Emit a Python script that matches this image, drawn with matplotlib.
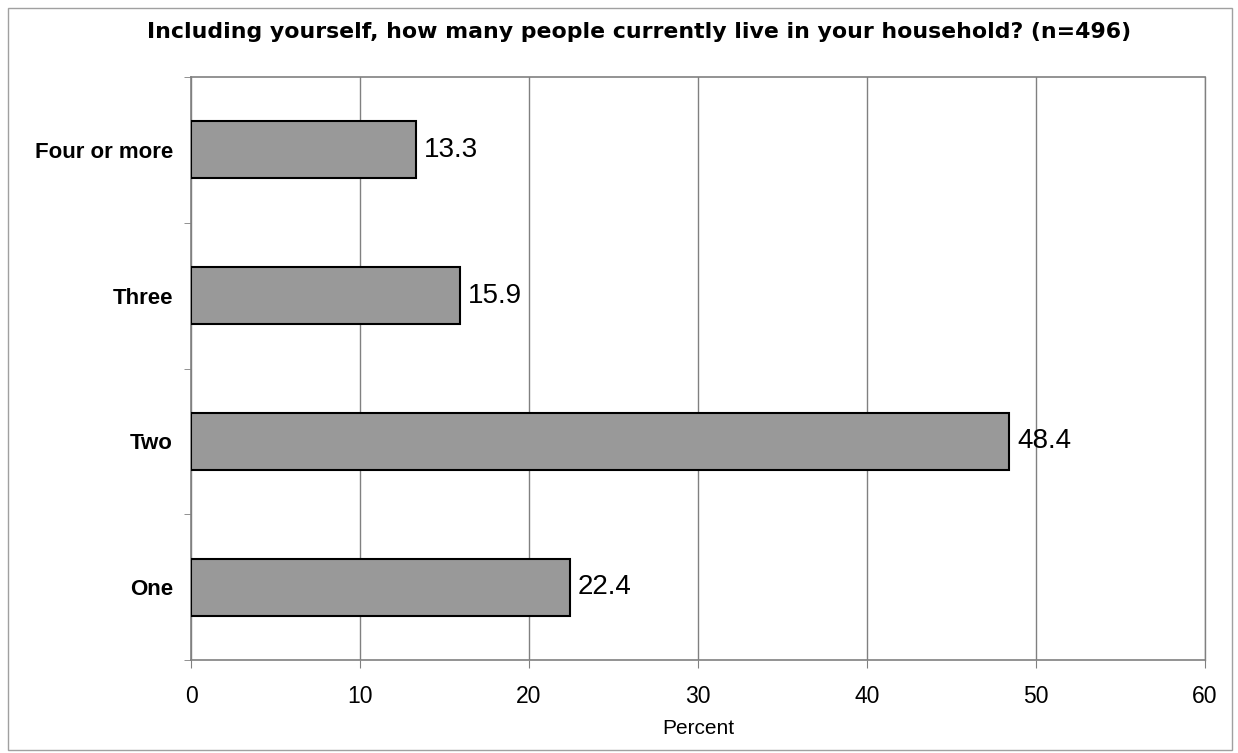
import matplotlib
matplotlib.use("Agg")
import matplotlib.pyplot as plt
from matplotlib.patches import Rectangle
from matplotlib.ticker import FixedLocator

categories = ["One", "Two", "Three", "Four or more"]
values = [22.4, 48.4, 15.9, 13.3]
xticks = [0, 10, 20, 30, 40, 50, 60]
title = "Including yourself, how many people currently live in your household? (n=496)"
xlabel = "Percent"

plt.rcParams['font.family'] = ['Liberation Sans', 'DejaVu Sans']

fig = plt.figure(figsize=(12.38, 7.53), dpi=100)
fig.patch.set_facecolor('white')
fig.patches.append(Rectangle((8/1238, 3/753), 1224/1238, 742/753, transform=fig.transFigure,
                             fill=False, edgecolor='#a0a0a0', linewidth=1.0))

ax = fig.add_axes([191/1238, 1 - 660/753, (1205-191)/1238, (660-77)/753])
ypos = list(range(len(categories)))
ax.barh(ypos, values, height=0.39, color='#999999', edgecolor='black', linewidth=1.5, zorder=3)
for y, v in zip(ypos, values):
    ax.text(v + 0.5, y, f"{v:.1f}", va='center', ha='left', fontsize=20, zorder=4)

ax.set_xlim(0, 60)
ax.set_ylim(-0.5, len(categories) - 0.5)
ax.set_xticks(xticks)
ax.set_xticklabels([str(t) for t in xticks], fontsize=16.5)
ax.set_yticks(ypos)
ax.set_yticklabels(categories, fontsize=16, fontweight='bold')
ax.yaxis.set_minor_locator(FixedLocator([-0.5, 0.5, 1.5, 2.5, 3.5]))
ax.tick_params(axis='y', which='major', length=0, pad=13)
ax.tick_params(axis='y', which='minor', length=5, color='#808080', direction='out')
ax.tick_params(axis='x', which='major', length=6, color='#808080', direction='out', pad=12)
ax.grid(axis='x', color='#808080', linewidth=1.0, zorder=0)
for s in ['top', 'bottom', 'left', 'right']:
    ax.spines[s].set_color('#808080')
    ax.spines[s].set_linewidth(1.2)
ax.spines['right'].set_linewidth(1.0)
ax.set_xlabel(xlabel, fontsize=15, labelpad=8)

fig.text(639/1238, 1 - 32/753, title, ha='center', va='center', fontsize=15.8,
         fontweight='bold', family=['DejaVu Sans'])

fig.savefig("out.png", dpi=100)
